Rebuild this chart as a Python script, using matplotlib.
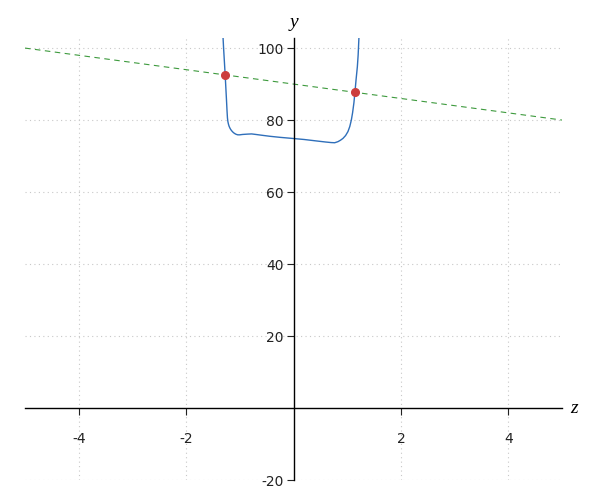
import numpy as np
import matplotlib.pyplot as plt

plt.rcParams['axes.unicode_minus'] = False

# blue curve, points
curve_z = [-1.312, -1.302, -1.288, -1.272, -1.260, -1.248, -1.238, -1.230, -1.222, -1.212,
           -1.200, -1.185, -1.170, -1.150, -1.125, -1.100, -1.070, -1.038, -1.000, -0.950,
           -0.852, -0.780, -0.700, -0.600, -0.443, -0.250, -0.020, 0.200, 0.426, 0.600,
           0.700, 0.767, 0.828, 0.875, 0.921, 0.970, 1.014, 1.048, 1.077, 1.100,
           1.125, 1.144, 1.165, 1.189, 1.204, 1.219]
curve_y = [102.9, 100.0, 96.5, 92.4, 89.0, 85.6, 82.6, 80.6, 79.6, 78.9,
           78.3, 77.8, 77.4, 77.0, 76.6, 76.3, 76.05, 75.9, 75.9, 76.0,
           76.1, 76.15, 76.0, 75.8, 75.5, 75.2, 74.9, 74.6, 74.2, 73.9,
           73.75, 73.7, 74.0, 74.4, 74.9, 75.7, 76.8, 78.2, 80.0, 82.0,
           84.8, 87.7, 91.2, 94.8, 98.1, 103.1]

# green dashed line
line_z = [-5, 5]
line_y = [100, 80]

# intersection points
pts_z = [-1.272, 1.144]
pts_y = [92.5, 87.7]

xticks = [-4, -2, 2, 4]
yticks = [-20, 20, 40, 60, 80, 100]

fig = plt.figure(figsize=(6, 5), dpi=100)
ax = fig.add_axes([25/600, 20/500, 537/600, 442/500])

ax.plot(line_z, line_y, color='#3d9a3d', lw=0.8, dashes=(5, 4))
ax.plot(curve_z, curve_y, color='#2f6fba', lw=1.0)
ax.plot(pts_z, pts_y, 'o', color='#cc3d3d', ms=5.5, zorder=5)

ax.set_xlim(-5, 5)
ax.set_ylim(-20, 102.8)
ax.set_xticks(xticks)
ax.set_yticks(yticks)
ax.grid(True, color='#c8c8c8', linestyle=(0, (1, 3)), lw=0.8)

for s in ['top', 'right']:
    ax.spines[s].set_visible(False)
ax.spines['left'].set_position(('data', 0))
ax.spines['bottom'].set_position(('data', 0))
ax.spines['left'].set_linewidth(1.0)
ax.spines['bottom'].set_linewidth(1.0)
ax.tick_params(axis='x', direction='out', length=5, pad=12, labelsize=10, colors='#222222')
ax.tick_params(axis='y', direction='out', length=5, pad=2, labelsize=10, colors='#222222')

ax.text(0, 104.8, 'y', ha='center', va='bottom', fontsize=14, family='Liberation Serif', style='italic')
ax.text(5.15, 0, 'z', ha='left', va='center', fontsize=14, family='Liberation Serif', style='italic')

fig.savefig('out.png', dpi=100)
